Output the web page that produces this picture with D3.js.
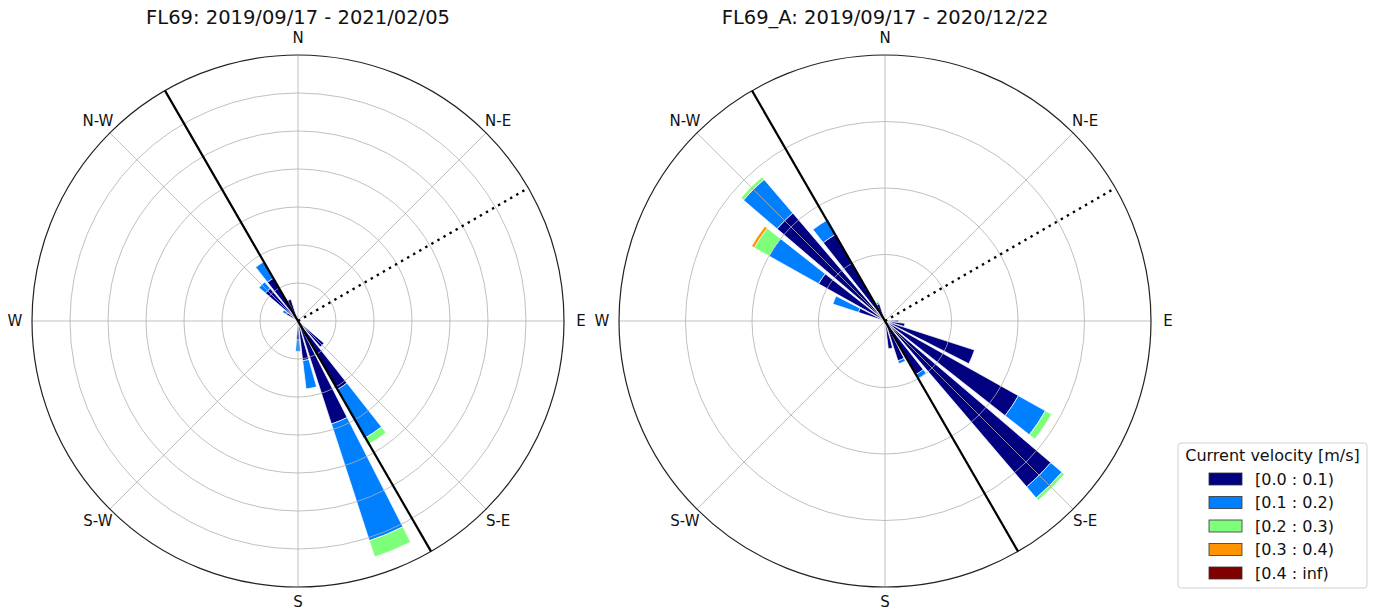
<!DOCTYPE html>
<html>
<head>
<meta charset="utf-8">
<script src="https://d3js.org/d3.v7.min.js"></script>
<style>
  html, body { margin: 0; padding: 0; background: #fff; }
  svg { display: block; font-family: "DejaVu Sans", sans-serif; }
</style>
</head>
<body>
<svg id="chart" width="1378" height="612"></svg>
<script>
// Speed classes and their colours (jet colormap steps)
const speedBins = ["[0.0 : 0.1)", "[0.1 : 0.2)", "[0.2 : 0.3)", "[0.3 : 0.4)", "[0.4 : inf)"];
const binColors = ["#000080", "#0080ff", "#7dff7a", "#ff9400", "#800000"];
const compassLabels = ["N", "N-E", "E", "S-E", "S", "S-W", "W", "N-W"];
const compassAngles = [0, 45, 90, 135, 180, 225, 270, 315];

// FL69 — frequency (%) per direction sector (11.25° sectors) and speed class
const fl69Dir  = [135, 146.25, 157.5, 168.75, 180, 303.75, 315, 326.25, 337.5];
const fl69Bin0 = [0.9, 2.08, 2.85, 1.05, 0.5, 0.35, 1.13, 1.3, 0.6];
const fl69Bin1 = [0, 1.47, 3.23, 0.75, 0.3, 0.12, 0.22, 0.5, 0];
const fl69Bin2 = [0, 0.19, 0.45, 0, 0, 0, 0, 0, 0];
const fl69Bin3 = [0, 0, 0, 0, 0, 0, 0, 0, 0];
const fl69Bin4 = [0, 0, 0, 0, 0, 0, 0, 0, 0];
const fl69Ticks = [1, 2, 3, 4, 5, 6];
const fl69Max = 7;

// FL69_A
const fl69aDir  = [90, 101.25, 112.5, 123.75, 135, 146.25, 157.5, 168.75, 292.5, 303.75, 315, 326.25, 337.5];
const fl69aBin0 = [0.4, 0.6, 2.83, 4.6, 6.56, 1.86, 1.26, 0.84, 0.84, 2.29, 4.27, 3.0, 0.55];
const fl69aBin1 = [0, 0, 0, 0.93, 0.44, 0.14, 0.09, 0, 0.81, 1.71, 1.33, 0.5, 0.05];
const fl69aBin2 = [0, 0, 0, 0.21, 0.1, 0, 0, 0, 0, 0.51, 0.1, 0, 0.05];
const fl69aBin3 = [0, 0, 0, 0, 0, 0, 0, 0, 0, 0.09, 0, 0, 0];
const fl69aBin4 = [0, 0, 0, 0, 0, 0, 0, 0, 0, 0, 0, 0, 0];
const fl69aTicks = [2, 4, 6];
const fl69aMax = 8;

// Reference directions drawn over each rose
const axisLineDir = 330;   // solid diameter
const dottedLineDir = 60;  // dotted radius

const sectorWidth = 360 / 32;
const opening = 0.8;
const svg = d3.select("#chart");
const R = 266;
const rad = Math.PI / 180;

function drawRose(cx, cy, title, dirs, bins, ticks, maxVal) {
  const g = svg.append("g").attr("transform", `translate(${cx},${cy})`);
  const r = d3.scaleLinear().domain([0, maxVal]).range([0, R]);

  const keys = speedBins.map((_, i) => "b" + i);
  const rows = dirs.map((d, j) => {
    const row = { dir: d };
    keys.forEach((k, i) => row[k] = bins[i][j]);
    return row;
  });
  const stacked = d3.stack().keys(keys)(rows);

  const arc = d3.arc();
  const half = sectorWidth * opening / 2;

  stacked.forEach((layer, i) => {
    g.append("g").selectAll("path")
      .data(layer.filter(d => d[1] - d[0] > 0))
      .join("path")
      .attr("d", d => arc({
        innerRadius: r(d[0]),
        outerRadius: r(d[1]),
        startAngle: (d.data.dir - half) * rad,
        endAngle: (d.data.dir + half) * rad
      }))
      .attr("fill", binColors[i])
      .attr("stroke", "#ffffff")
      .attr("stroke-width", 0.7);
  });

  // grid on top of bars
  const grid = g.append("g").attr("stroke", "#b0b0b0").attr("fill", "none").attr("stroke-opacity", 0.8).attr("stroke-width", 1);
  grid.selectAll("circle").data(ticks).join("circle").attr("r", d => r(d));
  grid.selectAll("line").data(compassAngles).join("line")
    .attr("x1", 0).attr("y1", 0)
    .attr("x2", d => R * Math.sin(d * rad))
    .attr("y2", d => -R * Math.cos(d * rad));

  // outer frame
  g.append("circle").attr("r", R).attr("fill", "none").attr("stroke", "#222").attr("stroke-width", 1.2);

  // reference lines
  g.append("line")
    .attr("x1", R * Math.sin(axisLineDir * rad)).attr("y1", -R * Math.cos(axisLineDir * rad))
    .attr("x2", -R * Math.sin(axisLineDir * rad)).attr("y2", R * Math.cos(axisLineDir * rad))
    .attr("stroke", "#000").attr("stroke-width", 2.2);
  g.append("line")
    .attr("x1", 0).attr("y1", 0)
    .attr("x2", R * Math.sin(dottedLineDir * rad)).attr("y2", -R * Math.cos(dottedLineDir * rad))
    .attr("stroke", "#000").attr("stroke-width", 2.4)
    .attr("stroke-dasharray", "2.4,4.6");

  // compass labels
  g.selectAll("text.dir").data(compassLabels).join("text")
    .attr("class", "dir")
    .attr("x", (d, i) => 283 * Math.sin(compassAngles[i] * rad))
    .attr("y", (d, i) => -(compassAngles[i] === 180 ? 281 : 283) * Math.cos(compassAngles[i] * rad))
    .attr("text-anchor", "middle").attr("dominant-baseline", "central")
    .attr("font-size", 15).attr("fill", "#111")
    .text(d => d);

  g.append("text").attr("x", 0).attr("y", -304)
    .attr("text-anchor", "middle").attr("dominant-baseline", "central")
    .attr("font-size", 19.5).attr("fill", "#111")
    .text(title);
}

drawRose(298, 321, "FL69: 2019/09/17 - 2021/02/05", fl69Dir,
  [fl69Bin0, fl69Bin1, fl69Bin2, fl69Bin3, fl69Bin4], fl69Ticks, fl69Max);
drawRose(885, 321, "FL69_A: 2019/09/17 - 2020/12/22", fl69aDir,
  [fl69aBin0, fl69aBin1, fl69aBin2, fl69aBin3, fl69aBin4], fl69aTicks, fl69aMax);

// legend
const lg = svg.append("g").attr("transform", "translate(1178,443)");
lg.append("rect").attr("width", 189).attr("height", 145).attr("rx", 3)
  .attr("fill", "#fff").attr("stroke", "#d0d0d0").attr("stroke-width", 1);
lg.append("text").attr("x", 94.5).attr("y", 12).attr("text-anchor", "middle")
  .attr("dominant-baseline", "central").attr("font-size", 16).attr("fill", "#111")
  .text("Current velocity [m/s]");
const items = lg.selectAll("g.item").data(speedBins).join("g")
  .attr("class", "item")
  .attr("transform", (d, i) => `translate(0,${36 + i * 23.5})`);
items.append("rect").attr("x", 31).attr("y", -6).attr("width", 33).attr("height", 12)
  .attr("fill", (d, i) => binColors[i]).attr("stroke", "#333").attr("stroke-width", 0.8);
items.append("text").attr("x", 77).attr("y", 0).attr("dominant-baseline", "central")
  .attr("font-size", 16).attr("fill", "#111").text(d => d);
</script>
</body>
</html>
